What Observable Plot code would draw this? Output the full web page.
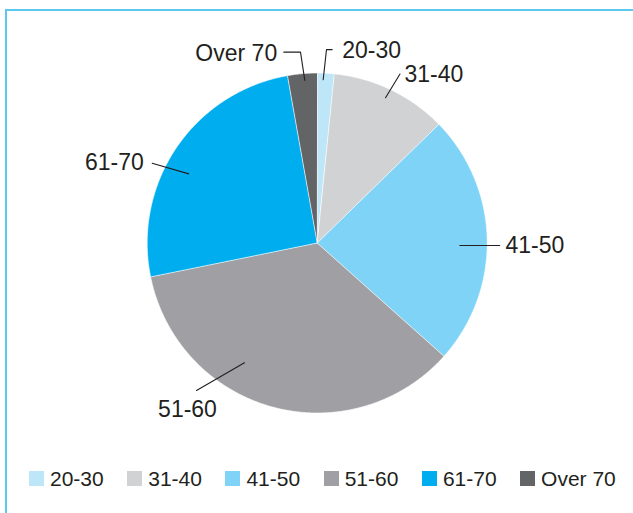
<!DOCTYPE html>
<html>
<head>
<meta charset="utf-8">
<script src="https://cdn.jsdelivr.net/npm/d3@7"></script>
<script src="https://cdn.jsdelivr.net/npm/@observablehq/plot@0.6"></script>
<style>
  html, body { margin: 0; padding: 0; background: #fff; overflow: hidden; width: 633px; height: 513px; }
  #frame { position: absolute; left: 5px; top: 9px; width: 700px; height: 600px;
           border-left: 2px solid #5bc8ef; border-top: 2px solid #5bc8ef; z-index: 2; pointer-events: none; }
  #chart { position: absolute; left: 0; top: 0; }
  #legend { position: absolute; left: 29px; top: 462px; width: 700px; }
  #legend > div { flex-wrap: nowrap !important; min-height: 33px; margin: 0 !important; }
  #legend span { margin-right: 23.5px !important; color: #231f20; }
  #legend svg { margin-right: 6px !important; }
</style>
</head>
<body>
<div id="frame"></div>
<div id="chart"></div>
<div id="legend"></div>
<script>
// Age groups and their share of the total (percent)
const ageGroups = ["20-30", "31-40", "41-50", "51-60", "61-70", "Over 70"];
const shares = [1.6, 11.1, 23.9, 35.2, 25.4, 2.8];
const sliceColors = ["#bde6f9", "#d1d2d4", "#7fd3f6", "#a0a0a4", "#00aeef", "#636466"];

// Page geometry: pie centre and radius in pixels
const W = 633, H = 460;
const cx = 316.7, cy = 242.5, R = 170;
const FONT = "'Liberation Sans', Arial, Helvetica, sans-serif";
const INK = "#231f20";

// Leader lines in polar terms (degrees clockwise from 12 o'clock, radius in pie units),
// an optional horizontal run (px), then the label offset (px) and text anchor.
const leaderLayout = [
  {group: "20-30",   a0: 2.1,   r0: 0.961, a1: 2.75,  r1: 1.139, run: 5.7,   dx: 10,   dy: 1,   anchor: "start"},
  {group: "31-40",   a0: 25.2,  r0: 0.944, a1: 26.1,  r1: 1.107, run: 0,     dx: 4.5,  dy: 0.5, anchor: "start"},
  {group: "41-50",   a0: 91.0,  r0: 0.839, a1: 90.8,  r1: 1.074, run: 0,     dx: 5.7,  dy: 0,   anchor: "start"},
  {group: "51-60",   a0: 211.3, r0: 0.824, a1: 219.3, r1: 1.121, run: 0,     dx: -9,   dy: 19,  anchor: "middle"},
  {group: "61-70",   a0: 298.3, r0: 0.858, a1: 295.8, r1: 1.078, run: 0,     dx: -8.4, dy: -1,  anchor: "end"},
  {group: "Over 70", a0: -4.36, r0: 0.959, a1: -5.0,  r1: 1.127, run: -16.7, dx: -6.6, dy: 1.3, anchor: "end"}
];

const rad = (deg) => deg * Math.PI / 180;
const polar = (aDeg, r) => ({x: r * Math.sin(rad(aDeg)), y: r * Math.cos(rad(aDeg))});

// Slice outlines: centre point followed by points along each arc
const arcs = d3.pie().sort(null).value((d, i) => shares[i]).startAngle(0).endAngle(2 * Math.PI)(ageGroups);
const pieRows = [];
arcs.forEach((arc) => {
  const group = arc.data;
  pieRows.push({group, x: 0, y: 0});
  const n = Math.max(2, Math.ceil((arc.endAngle - arc.startAngle) / (Math.PI / 360)));
  for (let k = 0; k <= n; k++) {
    const a = arc.startAngle + (arc.endAngle - arc.startAngle) * k / n;
    pieRows.push({group, x: Math.sin(a), y: Math.cos(a)});
  }
});

// Leader polylines and label anchor points
const leaderRows = [];
const labelRows = [];
leaderLayout.forEach((L) => {
  const p0 = polar(L.a0, L.r0);
  const p1 = polar(L.a1, L.r1);
  const pts = [p0, p1];
  let end = p1;
  if (L.run !== 0) {
    end = {x: p1.x + L.run / R, y: p1.y};
    pts.push(end);
  }
  pts.forEach((p) => leaderRows.push({group: L.group, x: p.x, y: p.y}));
  labelRows.push({group: L.group, anchor: L.anchor, x: end.x + L.dx / R, y: end.y - L.dy / R});
});

const labelMark = (anchor) => Plot.text(labelRows.filter((d) => d.anchor === anchor), {
  x: "x", y: "y", text: "group", textAnchor: anchor, fontSize: 23, fill: INK
});

const chart = Plot.plot({
  width: W,
  height: H,
  margin: 0,
  x: {domain: [-cx / R, (W - cx) / R], axis: null},
  y: {domain: [(cy - H) / R, cy / R], axis: null},
  color: {domain: ageGroups, range: sliceColors},
  style: {background: "transparent", fontFamily: FONT, color: INK},
  marks: [
    Plot.line(pieRows, {x: "x", y: "y", z: "group", fill: "group", stroke: "#ffffff", strokeWidth: 0.6, curve: "linear-closed"}),
    Plot.line(leaderRows, {x: "x", y: "y", z: "group", stroke: INK, strokeWidth: 1.1}),
    labelMark("start"),
    labelMark("middle"),
    labelMark("end")
  ]
});
document.getElementById("chart").appendChild(chart);

const legend = Plot.legend({
  color: {type: "ordinal", domain: ageGroups, range: sliceColors},
  legend: "swatches",
  swatchSize: 15,
  style: {fontSize: "21px", fontFamily: FONT, color: INK}
});
document.getElementById("legend").appendChild(legend);
</script>
</body>
</html>
